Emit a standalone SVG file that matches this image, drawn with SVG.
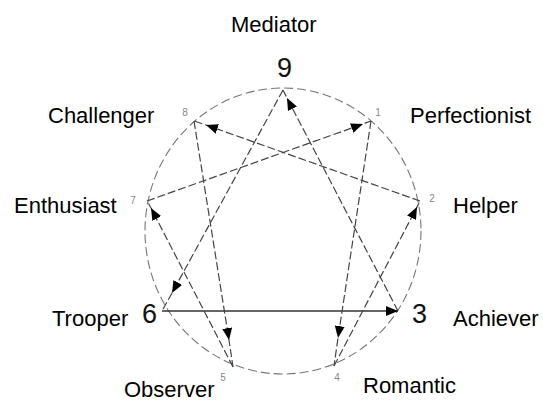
<svg xmlns="http://www.w3.org/2000/svg" width="543" height="402" viewBox="0 0 543 402">
<style>
.lbl{font-family:"Liberation Sans",Arial,sans-serif;font-size:22px;fill:#000}
.big{font-family:"Liberation Sans",Arial,sans-serif;font-size:27px;fill:#111}
.sm{font-family:"Liberation Sans",Arial,sans-serif;font-size:10px;fill:#888;text-anchor:middle}
.ring{fill:none;stroke:#777;stroke-width:1.1;stroke-dasharray:9 4}
.ln{fill:none;stroke:#444;stroke-width:1.2;stroke-dasharray:8 3}
.solid{fill:none;stroke:#333;stroke-width:1.4}
</style>
<defs>
<marker id="ah" viewBox="0 0 12 10" refX="12" refY="5" markerWidth="12" markerHeight="10" markerUnits="userSpaceOnUse" orient="auto">
<path d="M0,0 L12,5 L0,10 z" fill="#000"/>
</marker>
</defs>
<rect width="543" height="402" fill="#fff"/>
<g id="circle"><ellipse class="ring" cx="283" cy="231" rx="138" ry="143"/></g>
<g id="connectors">
<path class="ln" d="M283,90 L172,293 L162,311" marker-mid="url(#ah)"/>
<path class="solid" d="M162,311 L398,311" marker-end="url(#ah)"/>
<path class="ln" d="M398,311 L287,98 L283,90" marker-mid="url(#ah)"/>
<path class="ln" d="M371,121 L338,338 L334,366" marker-mid="url(#ah)"/>
<path class="ln" d="M334,366 L417,207 L420,201" marker-mid="url(#ah)"/>
<path class="ln" d="M420,201 L206,125 L194,121" marker-mid="url(#ah)"/>
<path class="ln" d="M194,121 L229,340 L233,367" marker-mid="url(#ah)"/>
<path class="ln" d="M233,367 L151,208 L147,201" marker-mid="url(#ah)"/>
<path class="ln" d="M147,201 L363,124 L371,121" marker-mid="url(#ah)"/>
</g>
<g id="node9"><text class="big" x="277" y="77">9</text><text class="lbl" x="231" y="32">Mediator</text></g>
<g id="node1"><text class="sm" x="378" y="116">1</text><text class="lbl" x="410" y="123">Perfectionist</text></g>
<g id="node2"><text class="sm" x="432" y="202">2</text><text class="lbl" x="453" y="213">Helper</text></g>
<g id="node3"><text class="big" x="412" y="323">3</text><text class="lbl" x="453" y="326">Achiever</text></g>
<g id="node4"><text class="sm" x="337" y="381">4</text><text class="lbl" x="363" y="393">Romantic</text></g>
<g id="node5"><text class="sm" x="223" y="381">5</text><text class="lbl" x="124" y="397">Observer</text></g>
<g id="node6"><text class="big" x="142" y="323">6</text><text class="lbl" x="52" y="326">Trooper</text></g>
<g id="node7"><text class="sm" x="133" y="204">7</text><text class="lbl" x="14" y="213">Enthusiast</text></g>
<g id="node8"><text class="sm" x="185" y="116">8</text><text class="lbl" x="48" y="123">Challenger</text></g>
</svg>
